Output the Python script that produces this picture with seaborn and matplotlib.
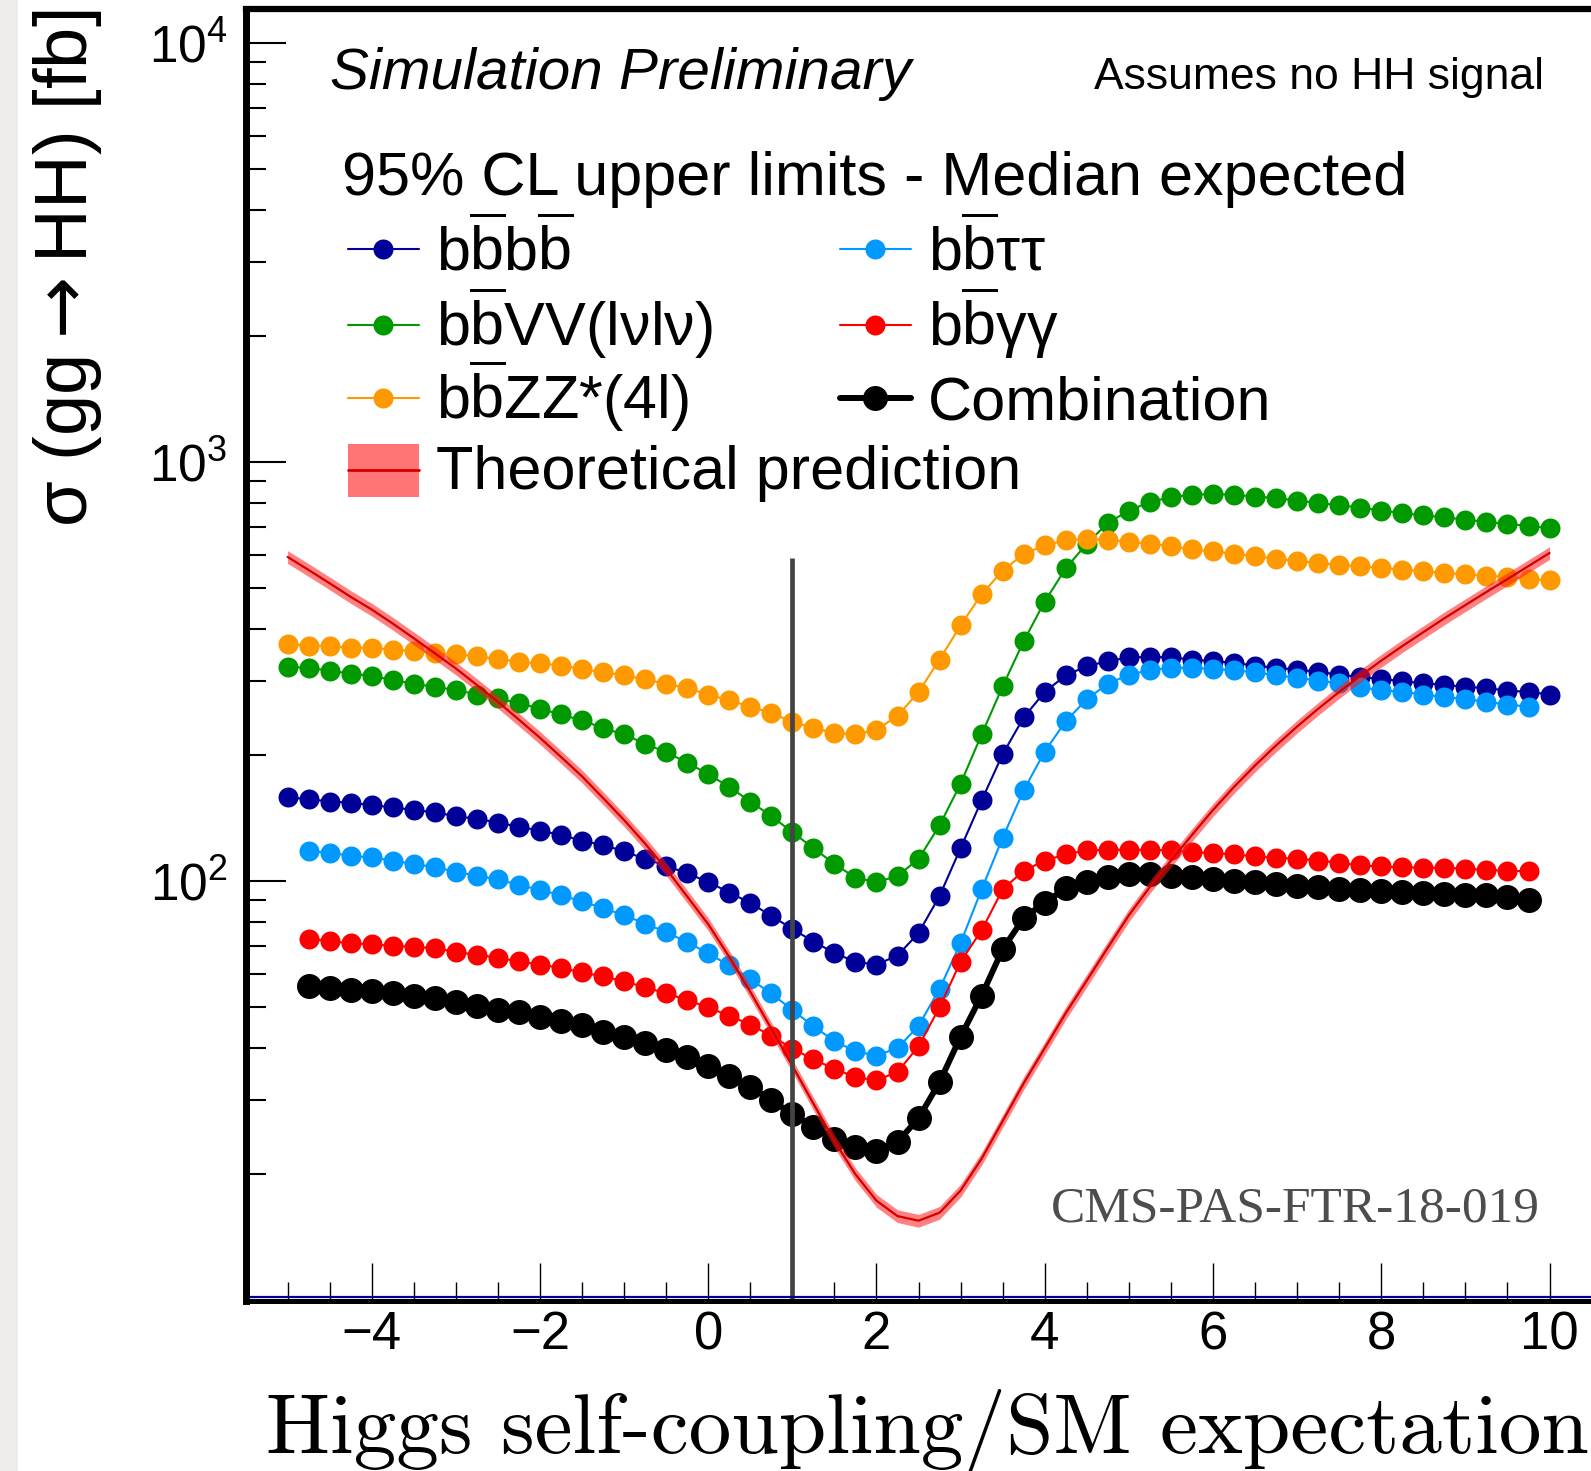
import numpy as np
import pandas as pd
import matplotlib
matplotlib.use("Agg")
import matplotlib.pyplot as plt
import seaborn as sns
from matplotlib.lines import Line2D
from matplotlib.patches import Rectangle
from matplotlib.ticker import MultipleLocator, LogLocator, NullFormatter

# ---------------------------------------------------------------- data
# kappa_lambda scan points (step 0.25)
kl_wide = np.arange(-5.0, 10.001, 0.25)      # bbbb, bbVV, bbZZ
kl_narrow = np.arange(-4.75, 9.751, 0.25)    # bbtautau, bbgammagamma, combination

# 95% CL median expected upper limits on sigma(gg->HH) [fb]
lim_bbbb = [158.5, 157, 155, 154, 152, 150, 148, 146, 143, 141, 138, 135, 132,
            129, 125, 122, 118, 113, 109, 104.4, 99.7, 94.0, 88.8, 82.7, 77.0,
            71.8, 67.5, 64.2, 63.3, 66.5, 75.3, 92.3, 120, 156, 201, 246, 283,
            310, 326, 335, 342, 343, 342, 338, 335, 332, 327, 323, 320, 316,
            311, 307, 304, 300, 297, 294, 291, 289, 285, 283, 279]
lim_bbvv = [325, 323, 318, 313, 309, 302, 296, 291, 286, 279, 273, 266, 258,
            250, 242, 232, 224, 213, 203, 192, 180, 168, 155, 143, 131, 120,
            110, 102, 99.5, 103, 113, 136, 171, 224, 292, 374, 465, 558, 639,
            716, 766, 803, 825, 836, 839, 836, 827, 821, 809, 799, 789, 779,
            766, 756, 746, 738, 729, 720, 712, 704, 696]
lim_bbzz = [368, 365, 364, 361, 360, 357, 354, 351, 348, 344, 339, 334, 331,
            327, 321, 315, 310, 303, 296, 289, 279, 270, 261, 252, 240, 232,
            226, 224, 230, 248, 283, 338, 408, 484, 551, 604, 633, 651, 655,
            653, 645, 639, 630, 619, 612, 605, 596, 588, 581, 574, 569, 564,
            559, 554, 549, 544, 540, 536, 532, 527, 522]
lim_bbtt = [118, 117, 115, 114, 112, 110, 108, 105.5, 103, 101, 98, 95.4, 92.6,
            89.5, 86.3, 83.0, 79.3, 75.6, 71.6, 67.3, 63.0, 58.4, 54.0, 49.3,
            45.1, 41.6, 39.3, 38.4, 40.0, 45.2, 55.4, 71.3, 95.7, 127, 165, 204,
            241, 272, 296, 311, 319, 323, 323, 321, 319, 315, 310, 306, 301,
            297, 290, 286, 283, 279, 275, 272, 268, 264, 261]
lim_bbgg = [73.0, 71.9, 71.2, 70.7, 70.2, 69.7, 69.3, 67.8, 66.8, 65.7, 64.4,
            63.3, 62.1, 60.6, 59.3, 57.7, 55.9, 54.0, 52.1, 50.0, 47.8, 45.5,
            42.8, 39.9, 37.6, 35.7, 34.1, 33.5, 35.1, 40.4, 50.1, 64.3, 76.4,
            95.7, 106, 112, 116, 118.5, 118.9, 118.9, 118.9, 118.5, 117.4,
            116.7, 115.9, 114.6, 113.8, 113.2, 112.1, 110.7, 109.1, 108.5,
            108.1, 107.7, 107.7, 107.1, 106.5, 105.9, 105.7]
lim_comb = [56.3, 55.6, 55.0, 54.6, 54.0, 53.3, 52.7, 51.6, 50.3, 49.3, 48.7,
            47.5, 46.5, 45.4, 43.8, 42.6, 41.1, 39.5, 38.0, 36.2, 34.3, 32.3,
            30.1, 27.8, 26.0, 24.3, 23.2, 22.7, 23.9, 27.2, 33.2, 42.6, 53.4,
            68.9, 81.7, 89.0, 96.2, 99.5, 102.5, 104, 104, 103.2, 102.3, 101.4,
            100.4, 99.5, 98.6, 97.7, 96.8, 95.9, 95.4, 94.7, 94.2, 93.7, 93.3,
            93.0, 92.5, 91.6, 90.3]

# theoretical sigma(gg->HH) [fb] at the same kappa_lambda points as kl_wide
theory_xs = [594, 553, 514, 477, 445, 412, 380, 350, 322, 294, 268, 243, 220,
             198, 178, 158, 140, 123, 107, 92, 79, 66, 54.5, 44.5, 36.3, 29.5,
             24.0, 20.0, 17.3, 15.9, 15.5, 16.2, 18.3, 21.8, 26.8, 33, 40, 48.5,
             58, 69.5, 83, 97, 112, 129, 148, 168, 189, 211, 234, 258, 283, 309,
             336, 364, 393, 424, 456, 490, 526, 565, 607]
theory_rel_unc = 0.035

sm_kl = 1.0          # Standard Model point
sm_line_top = 590.0  # fb

# ---------------------------------------------------------------- style
sns.set_style("ticks")
plt.rcParams["font.family"] = ["Liberation Sans", "DejaVu Sans"]
plt.rcParams["mathtext.fontset"] = "custom"
plt.rcParams["mathtext.rm"] = "Liberation Sans"
plt.rcParams["mathtext.it"] = "Liberation Sans:italic"
plt.rcParams["mathtext.bf"] = "Liberation Sans:bold"
plt.rcParams["axes.unicode_minus"] = True
for key in ("text.color", "axes.labelcolor", "axes.edgecolor",
            "xtick.color", "ytick.color", "xtick.labelcolor", "ytick.labelcolor"):
    plt.rcParams[key] = "black"

C_NAVY = "#000099"
C_SKY = "#0099ff"
C_GREEN = "#009900"
C_RED = "#ff0000"
C_ORANGE = "#ff9900"
C_BLACK = "#000000"
C_THEORY = "#d40000"

BAR = r"$\overline{\mathrm{b}}$"
series = [
    ("b" + BAR + "b" + BAR, kl_wide, lim_bbbb, C_NAVY, 14.4, 1.5),
    ("b" + BAR + "ττ", kl_narrow, lim_bbtt, C_SKY, 14.4, 1.5),
    ("b" + BAR + "VV(lνlν)", kl_wide, lim_bbvv, C_GREEN, 14.4, 1.5),
    ("b" + BAR + "γγ", kl_narrow, lim_bbgg, C_RED, 14.4, 1.5),
    ("b" + BAR + "ZZ*(4l)", kl_wide, lim_bbzz, C_ORANGE, 14.4, 1.5),
    ("Combination", kl_narrow, lim_comb, C_BLACK, 18.0, 4.3),
]

W, H = 1591, 1471
fig = plt.figure(figsize=(W / 100, H / 100), dpi=100)
fig.patches.append(Rectangle((0, 0), 18.3 / W, 1, transform=fig.transFigure,
                             facecolor="#efedea", edgecolor="none", zorder=-5))

ax_l, ax_r, ax_t, ax_b = 245.5, 1591.6, 8.5, 1300.5
ax = fig.add_axes([ax_l / W, 1 - ax_b / H, (ax_r - ax_l) / W, (ax_b - ax_t) / H])

# ---------------------------------------------------------------- curves
for label, x, y, color, ms, lw in series:
    df = pd.DataFrame({"kl": x, "limit": y})
    sns.lineplot(data=df, x="kl", y="limit", ax=ax, color=color, marker="o",
                 markersize=ms, markeredgewidth=0, linewidth=lw,
                 estimator=None, sort=False, legend=False, zorder=3)

th = pd.DataFrame({"kl": kl_wide, "xs": theory_xs})
ax.fill_between(th["kl"], th["xs"] * (1 - theory_rel_unc),
                th["xs"] * (1 + theory_rel_unc), facecolor="#ff1a1a",
                alpha=0.55, linewidth=0, zorder=4)
sns.lineplot(data=th, x="kl", y="xs", ax=ax, color=C_THEORY, linewidth=1.6,
             estimator=None, sort=False, legend=False, zorder=4)

ax.vlines(sm_kl, 10, sm_line_top, color="#444444", linewidth=3.4, zorder=5)

# ---------------------------------------------------------------- axes
ax.set_yscale("log")
ax.set_xlim(-5.5, 10.5)
ax.set_ylim(10, 12080)
ax.set_xlabel("")
ax.set_ylabel("")
ax.set_yticks([1e2, 1e3, 1e4])
ax.yaxis.set_minor_locator(LogLocator(base=10, subs=np.arange(2, 10)))
ax.yaxis.set_minor_formatter(NullFormatter())
ax.xaxis.set_major_locator(MultipleLocator(2))
ax.xaxis.set_minor_locator(MultipleLocator(0.5))

ax.tick_params(axis="x", which="major", direction="in", length=27.5, width=1.0,
               labelsize=38, pad=7, top=False)
ax.tick_params(axis="x", which="minor", direction="in", length=13.5, width=1.0,
               top=False)
ax.tick_params(axis="y", which="major", direction="in", length=28.8, width=1.5,
               labelsize=37, pad=13, right=False)
ax.tick_params(axis="y", which="minor", direction="in", length=14.4, width=1.5,
               right=False)

ax.spines["left"].set_linewidth(5.0)
ax.spines["bottom"].set_linewidth(3.6)
ax.spines["top"].set_linewidth(4.5)
ax.spines["right"].set_linewidth(1.0)
ax.spines["right"].set_color("#999999")
for s in ax.spines.values():
    s.set_zorder(6)
ax.plot([0, 1], [0.0026, 0.0026], transform=ax.transAxes, color=C_NAVY,
        linewidth=1.6, zorder=5.5, clip_on=False)

# ---------------------------------------------------------------- labels
fig.text(0.0425, 0.8175, r"σ (gg$\rightarrow$HH) [fb]", rotation=90,
         fontsize=53.5, math_fontfamily="dejavusans", ha="center", va="center")
fig.text(0.9987, 1 - 1453 / H, "Higgs self-coupling/SM expectation",
         family="cmr10", fontsize=61.5, ha="right", va="baseline")

ax.text(0.0628, 0.9377, "Simulation Preliminary", style="italic", fontsize=42,
        transform=ax.transAxes, va="baseline")
ax.text(0.9646, 0.9377, "Assumes no HH signal", fontsize=32,
        transform=ax.transAxes, ha="right", va="baseline")
ax.text(0.0717, 0.8556, "95% CL upper limits - Median expected", fontsize=44,
        transform=ax.transAxes, va="baseline")
ax.text(0.9617, 0.0615, "CMS-PAS-FTR-18-019", family="Liberation Serif",
        fontsize=37, color="#4d4d4d", transform=ax.transAxes, ha="right",
        va="baseline")

# ---------------------------------------------------------------- legend
col_x = [0.0761, 0.4416]
handle_w = 0.0528
text_gap = 0.0126
row_y = [0.8142, 0.7553, 0.6987]
base_off = 0.0166
for i, (label, _, _, color, ms, lw) in enumerate(series):
    cx = col_x[i % 2]
    ry = row_y[i // 2]
    ax.add_line(Line2D([cx, cx + handle_w], [ry, ry], transform=ax.transAxes,
                       color=color, linewidth=lw, zorder=7))
    ax.add_line(Line2D([cx + handle_w / 2], [ry], transform=ax.transAxes,
                       color=color, marker="o", markersize=ms,
                       markeredgewidth=0, linestyle="none", zorder=7))
    ax.text(cx + handle_w + text_gap, ry - base_off, label, fontsize=44,
            transform=ax.transAxes, va="baseline")

th_y = 0.6425
box_h = 0.041
ax.add_patch(Rectangle((col_x[0], th_y - box_h / 2), handle_w, box_h,
                       transform=ax.transAxes, facecolor="#ff1a1a", alpha=0.6,
                       edgecolor="none", zorder=7))
ax.add_line(Line2D([col_x[0], col_x[0] + handle_w], [th_y, th_y],
                   transform=ax.transAxes, color=C_THEORY, linewidth=2.0,
                   zorder=7))
ax.text(col_x[0] + handle_w + text_gap, th_y - base_off + 0.002,
        "Theoretical prediction", fontsize=44, transform=ax.transAxes,
        va="baseline")

fig.savefig("out.png", dpi=100)
